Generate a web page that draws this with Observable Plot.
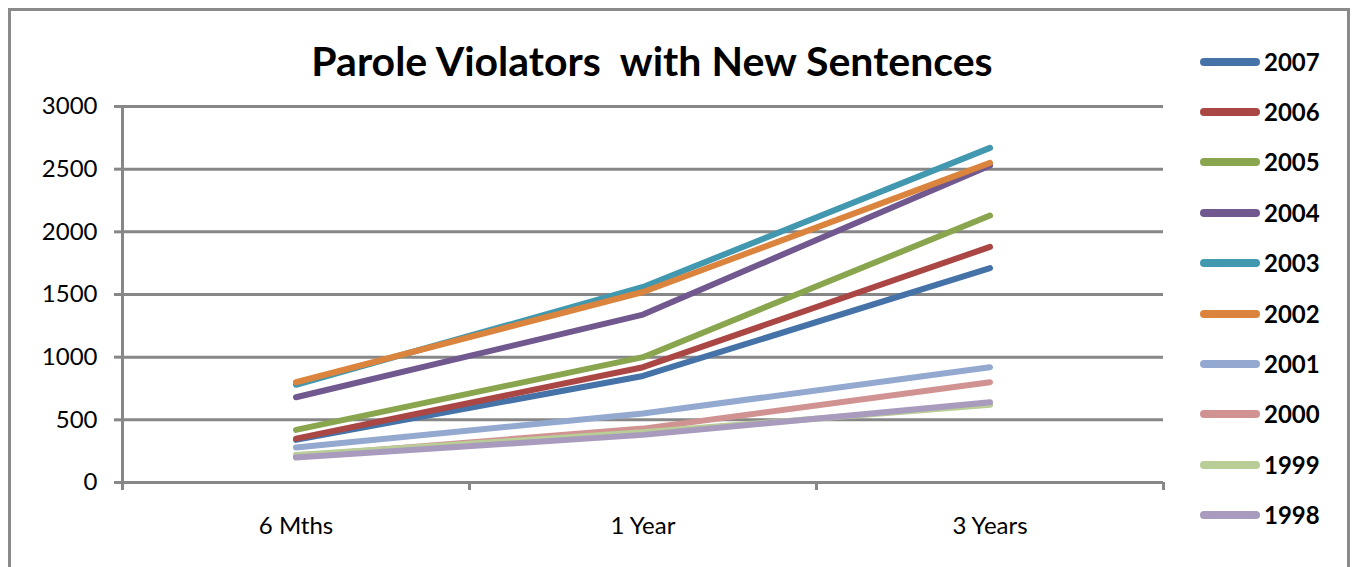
<!DOCTYPE html>
<html>
<head>
<meta charset="utf-8">
<script src="https://cdn.jsdelivr.net/npm/d3@7"></script>
<script src="https://cdn.jsdelivr.net/npm/@observablehq/plot@0.6"></script>
<style>
  html, body { margin: 0; padding: 0; background: #fff; }
  #wrap { position: relative; width: 1357px; height: 567px; overflow: hidden; font-family: Lato, "Open Sans", sans-serif; }
  #border { position: absolute; left: 8px; top: 8px; width: 1342px; height: 700px; border: 3px solid #8a8a8a; box-sizing: border-box; }
  #chart { position: absolute; left: 0; top: 0; }
  #title { position: absolute; left: 0; width: 1304px; top: 36px; text-align: center; font-weight: 700; font-size: 41px; color: #000; white-space: pre; }
  #legend { position: absolute; left: 1200px; top: 36.5px; }
  .row { height: 50.4px; display: flex; align-items: center; }
  .sw { width: 60px; height: 8px; border-radius: 4px; margin-right: 4px; }
  .lab { font-weight: 700; font-size: 24px; color: #000; line-height: 1; }
</style>
</head>
<body>
<div id="wrap">
  <div id="border"></div>
  <div id="chart"></div>
  <div id="title">Parole Violators  with New Sentences</div>
  <div id="legend"></div>
</div>
<script>
// ---- Data ----
const categories = ["6 Mths", "1 Year", "3 Years"];
const years = ["2007", "2006", "2005", "2004", "2003", "2002", "2001", "2000", "1999", "1998"];
const v2007 = [340, 850, 1710];
const v2006 = [350, 920, 1880];
const v2005 = [420, 1000, 2130];
const v2004 = [680, 1340, 2530];
const v2003 = [780, 1560, 2670];
const v2002 = [800, 1520, 2550];
const v2001 = [280, 550, 920];
const v2000 = [210, 430, 800];
const v1999 = [220, 400, 620];
const v1998 = [200, 380, 640];
const colors = ["#4572A7", "#AA4643", "#89A54E", "#71588F", "#4198AF", "#DB843D", "#93A9CF", "#D19392", "#B9CD96", "#A99BBD"];
const yTicks = [0, 500, 1000, 1500, 2000, 2500, 3000];

const seriesValues = [v2007, v2006, v2005, v2004, v2003, v2002, v2001, v2000, v1999, v1998];
const data = [];
years.forEach((yr, s) => {
  categories.forEach((c, i) => {
    data.push({year: yr, cat: c, idx: i + 0.5, value: seriesValues[s][i]});
  });
});

const grid = "#878787";
const chart = Plot.plot({
  width: 1357,
  height: 567,
  marginLeft: 122,
  marginRight: 194,
  marginTop: 106,
  marginBottom: 85,
  style: {fontFamily: "Lato, 'Open Sans', sans-serif", background: "transparent", overflow: "visible"},
  x: {type: "linear", domain: [0, categories.length], axis: null},
  y: {domain: [0, 3000], axis: null},
  color: {domain: years, range: colors},
  marks: [
    Plot.ruleY(yTicks.filter(t => t > 0), {stroke: grid, strokeWidth: 3}),
    Plot.ruleX([0], {stroke: grid, strokeWidth: 3}),
    Plot.ruleY([0], {stroke: grid, strokeWidth: 3}),
    Plot.axisY({ticks: yTicks, tickSize: 8, tickPadding: 17, stroke: grid, strokeWidth: 3, fill: "#000", fontSize: 24, label: null, tickFormat: d => String(d)}),
    Plot.axisX({ticks: d3.range(categories.length + 1), tickSize: 8, stroke: grid, strokeWidth: 3, label: null, tickFormat: () => ""}),
    Plot.axisX({ticks: categories.map((c, i) => i + 0.5), tickSize: 0, tickPadding: 34, fill: "#000", fontSize: 24, label: null, tickFormat: d => categories[Math.round(d - 0.5)]}),
    Plot.line(data, {x: "idx", y: "value", z: "year", stroke: "year", strokeWidth: 6, strokeLinecap: "round", strokeLinejoin: "round"})
  ]
});
document.getElementById("chart").appendChild(chart);

const legend = document.getElementById("legend");
years.forEach((yr, i) => {
  const row = document.createElement("div");
  row.className = "row";
  const sw = document.createElement("div");
  sw.className = "sw";
  sw.style.background = colors[i];
  const lab = document.createElement("span");
  lab.className = "lab";
  lab.textContent = yr;
  row.appendChild(sw);
  row.appendChild(lab);
  legend.appendChild(row);
});
</script>
</body>
</html>
